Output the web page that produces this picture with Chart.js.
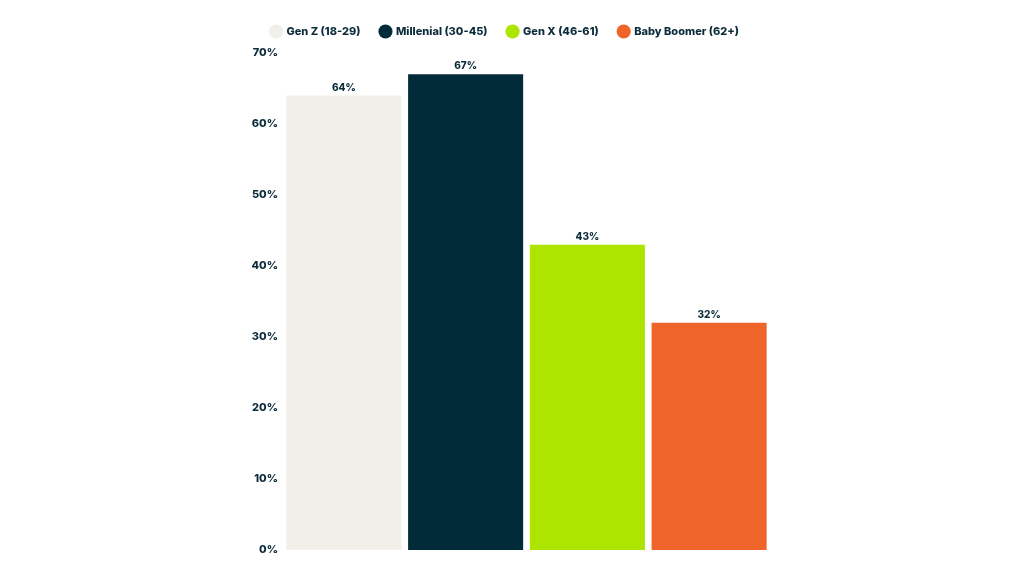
<!DOCTYPE html>
<html>
<head>
<meta charset="utf-8">
<script src="https://cdn.jsdelivr.net/npm/chart.js@4"></script>
<style>
html,body{margin:0;padding:0;background:#fff;}
#wrap{width:1024px;height:576px;position:relative;}
</style>
</head>
<body>
<div id="wrap"><canvas id="c" width="1024" height="576"></canvas></div>
<script>
const categories = [""];
const seriesNames = ["Gen Z (18-29)", "Millenial (30-45)", "Gen X (46-61)", "Baby Boomer (62+)"];
const seriesValues = [64, 67, 43, 32];
const seriesColors = ["#f0efea", "#022b3a", "#ade500", "#ef6428"];
const yTicks = [0, 10, 20, 30, 40, 50, 60, 70];

const textColor = "#0d2c3b";
const fontFamily = "Inter, Lato, 'Noto Sans', sans-serif";

const valueLabels = {
  id: "valueLabels",
  afterDatasetsDraw(chart) {
    const ctx = chart.ctx;
    ctx.save();
    ctx.fillStyle = textColor;
    ctx.font = "800 10px " + fontFamily;
    ctx.textAlign = "center";
    ctx.textBaseline = "bottom";
    chart.data.datasets.forEach((ds, i) => {
      const meta = chart.getDatasetMeta(i);
      meta.data.forEach((bar, j) => {
        ctx.fillText(ds.data[j] + "%", bar.x, bar.y - 3);
      });
    });
    ctx.restore();
  }
};

const legendSpacer = {
  id: "legendSpacer",
  beforeInit(chart) {
    const orig = chart.legend.fit;
    chart.legend.fit = function () {
      orig.bind(chart.legend)();
      this.height += 6;
    };
  }
};

new Chart(document.getElementById("c"), {
  type: "bar",
  data: {
    labels: categories,
    datasets: seriesNames.map((n, i) => ({
      label: n,
      data: [seriesValues[i]],
      backgroundColor: seriesColors[i],
      borderWidth: 0,
      barPercentage: 0.945,
      categoryPercentage: 1.0
    }))
  },
  options: {
    responsive: false,
    animation: false,
    layout: { padding: { left: 240, right: 254, top: 6, bottom: 26 } },
    plugins: {
      legend: {
        position: "top",
        labels: {
          usePointStyle: true,
          pointStyle: "circle",
          boxWidth: 10,
          boxHeight: 10,
          padding: 20,
          color: textColor,
          font: { family: fontFamily, size: 11, weight: "800" }
        }
      },
      tooltip: { enabled: false }
    },
    scales: {
      x: { display: false },
      y: {
        min: 0,
        max: 70,
        afterFit: (s) => { s.width = 43; },
        afterBuildTicks: (s) => { s.ticks = yTicks.map(v => ({ value: v })); },
        grid: { display: false, drawTicks: false },
        border: { display: false },
        ticks: {
          padding: 5,
          color: textColor,
          font: { family: fontFamily, size: 11, weight: "800" },
          callback: (v) => v + "%"
        }
      }
    }
  },
  plugins: [valueLabels, legendSpacer]
});
</script>
</body>
</html>
